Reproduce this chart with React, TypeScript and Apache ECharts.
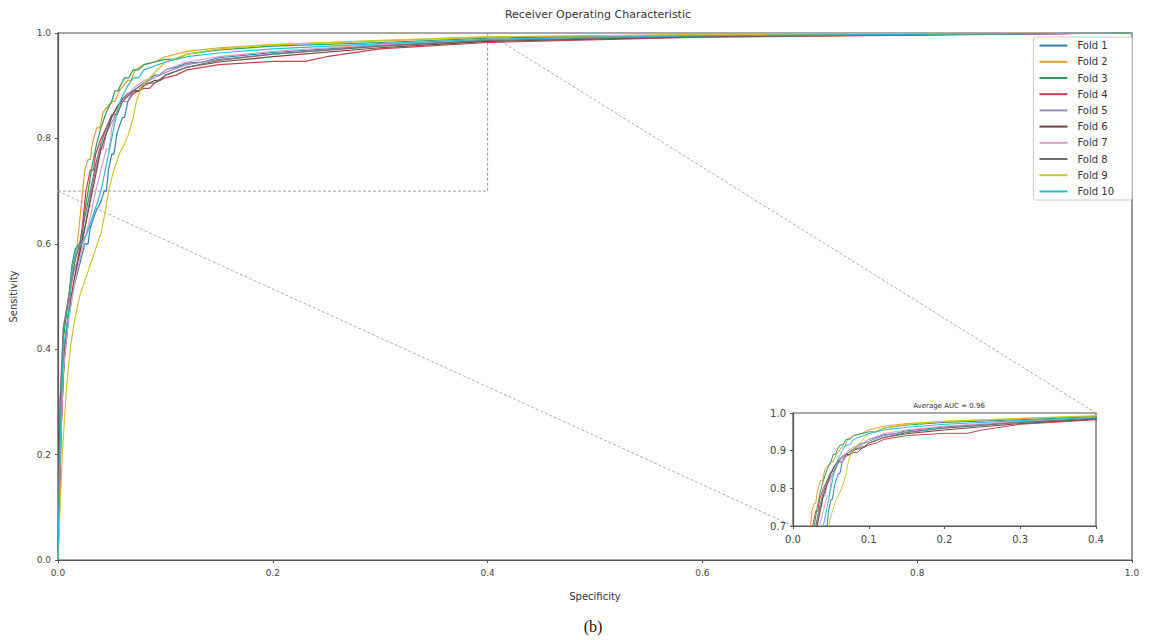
import React, { useEffect, useRef } from "react";
import * as echarts from "echarts";

const foldNames = ["Fold 1", "Fold 2", "Fold 3", "Fold 4", "Fold 5", "Fold 6", "Fold 7", "Fold 8", "Fold 9", "Fold 10"];
const foldColors = ["#2f7fb0", "#e0a030", "#2e9a5a", "#c8404f", "#9a8ab8", "#6a4a3a", "#d8a0c8", "#707070", "#c8c830", "#30b8d0"];

const fold1 = [[0,0],[0.002,0.2],[0.005,0.36],[0.01,0.46],[0.015,0.52],[0.02,0.56],[0.025,0.6],[0.028,0.6],[0.03,0.63],[0.035,0.66],[0.04,0.68],[0.043,0.7],[0.045,0.7],[0.047,0.74],[0.05,0.77],[0.052,0.77],[0.055,0.81],[0.06,0.84],[0.062,0.84],[0.065,0.87],[0.07,0.89],[0.075,0.89],[0.08,0.905],[0.09,0.92],[0.095,0.92],[0.1,0.93],[0.11,0.935],[0.12,0.943],[0.135,0.945],[0.15,0.953],[0.2,0.963],[0.25,0.97],[0.3,0.977],[0.4,0.986],[0.5,0.99],[0.7,0.995],[1,1]];
const fold2 = [[0,0],[0.003,0.25],[0.006,0.4],[0.01,0.48],[0.015,0.56],[0.018,0.6],[0.021,0.66],[0.023,0.7],[0.025,0.74],[0.028,0.76],[0.03,0.76],[0.032,0.79],[0.036,0.82],[0.039,0.82],[0.042,0.85],[0.05,0.87],[0.053,0.87],[0.057,0.89],[0.065,0.91],[0.068,0.91],[0.072,0.93],[0.08,0.94],[0.09,0.945],[0.1,0.955],[0.12,0.965],[0.15,0.972],[0.2,0.978],[0.3,0.985],[0.4,0.992],[0.6,0.997],[1,1]];
const fold3 = [[0,0],[0.002,0.22],[0.005,0.42],[0.01,0.5],[0.013,0.56],[0.016,0.59],[0.02,0.6],[0.022,0.6],[0.024,0.65],[0.028,0.7],[0.032,0.75],[0.036,0.79],[0.04,0.82],[0.045,0.85],[0.05,0.87],[0.053,0.89],[0.056,0.89],[0.058,0.9],[0.062,0.915],[0.066,0.915],[0.07,0.93],[0.075,0.93],[0.08,0.94],[0.09,0.945],[0.1,0.95],[0.11,0.95],[0.12,0.96],[0.15,0.968],[0.2,0.975],[0.3,0.982],[0.4,0.99],[0.6,0.996],[1,1]];
const fold4 = [[0,0],[0.003,0.25],[0.006,0.4],[0.01,0.47],[0.015,0.53],[0.02,0.59],[0.023,0.64],[0.026,0.7],[0.03,0.74],[0.033,0.74],[0.035,0.77],[0.04,0.8],[0.045,0.82],[0.05,0.84],[0.055,0.86],[0.06,0.87],[0.065,0.87],[0.07,0.885],[0.08,0.895],[0.085,0.895],[0.09,0.905],[0.1,0.915],[0.11,0.92],[0.12,0.93],[0.15,0.94],[0.2,0.946],[0.23,0.946],[0.25,0.955],[0.3,0.97],[0.4,0.982],[0.6,0.992],[1,1]];
const fold5 = [[0,0],[0.002,0.3],[0.005,0.44],[0.01,0.5],[0.015,0.55],[0.02,0.58],[0.025,0.63],[0.031,0.7],[0.035,0.74],[0.04,0.78],[0.042,0.78],[0.045,0.81],[0.05,0.83],[0.055,0.85],[0.06,0.87],[0.065,0.87],[0.07,0.89],[0.08,0.905],[0.09,0.915],[0.1,0.925],[0.12,0.94],[0.15,0.95],[0.2,0.96],[0.3,0.975],[0.4,0.985],[0.6,0.993],[1,1]];
const fold6 = [[0,0],[0.003,0.28],[0.007,0.42],[0.01,0.47],[0.015,0.53],[0.02,0.58],[0.025,0.63],[0.032,0.7],[0.036,0.74],[0.04,0.78],[0.045,0.81],[0.05,0.84],[0.055,0.86],[0.06,0.875],[0.065,0.885],[0.07,0.89],[0.075,0.89],[0.08,0.9],[0.09,0.91],[0.095,0.91],[0.1,0.92],[0.12,0.935],[0.15,0.945],[0.2,0.955],[0.3,0.972],[0.4,0.984],[0.6,0.993],[1,1]];
const fold7 = [[0,0],[0.002,0.2],[0.005,0.36],[0.01,0.46],[0.015,0.52],[0.02,0.57],[0.025,0.61],[0.03,0.65],[0.035,0.7],[0.04,0.74],[0.045,0.78],[0.048,0.78],[0.05,0.82],[0.055,0.85],[0.06,0.87],[0.07,0.895],[0.08,0.91],[0.09,0.915],[0.1,0.93],[0.12,0.945],[0.15,0.955],[0.2,0.965],[0.3,0.978],[0.4,0.988],[0.6,0.995],[1,1]];
const fold8 = [[0,0],[0.002,0.3],[0.005,0.44],[0.01,0.5],[0.015,0.56],[0.02,0.6],[0.025,0.65],[0.03,0.7],[0.035,0.75],[0.04,0.79],[0.045,0.82],[0.05,0.845],[0.055,0.845],[0.06,0.87],[0.07,0.89],[0.08,0.905],[0.09,0.905],[0.1,0.92],[0.12,0.935],[0.15,0.948],[0.2,0.96],[0.3,0.975],[0.4,0.986],[0.6,0.994],[1,1]];
const fold9 = [[0,0],[0.004,0.2],[0.008,0.33],[0.012,0.41],[0.016,0.46],[0.02,0.5],[0.025,0.53],[0.03,0.56],[0.035,0.59],[0.04,0.62],[0.044,0.66],[0.047,0.7],[0.052,0.74],[0.057,0.77],[0.062,0.79],[0.066,0.81],[0.07,0.84],[0.073,0.87],[0.078,0.9],[0.09,0.925],[0.1,0.945],[0.12,0.96],[0.15,0.97],[0.2,0.978],[0.3,0.986],[0.4,0.993],[0.6,0.997],[1,1]];
const fold10 = [[0,0],[0.002,0.22],[0.005,0.4],[0.01,0.47],[0.013,0.55],[0.017,0.59],[0.022,0.6],[0.027,0.62],[0.032,0.65],[0.037,0.68],[0.04,0.7],[0.044,0.74],[0.048,0.78],[0.052,0.82],[0.056,0.86],[0.06,0.88],[0.065,0.9],[0.07,0.915],[0.075,0.915],[0.08,0.93],[0.1,0.945],[0.12,0.955],[0.15,0.962],[0.2,0.97],[0.3,0.98],[0.4,0.988],[0.6,0.995],[1,1]];

const foldData = [fold1, fold2, fold3, fold4, fold5, fold6, fold7, fold8, fold9, fold10];

// zoom box in data space (main axes) = inset axes range
const zoomXMin = 0;
const zoomXMax = 0.4;
const zoomYMin = 0.7;
const zoomYMax = 1.0;

const mainTitle = "Receiver Operating Characteristic";
const insetTitle = "Average AUC = 0.96";
const caption = "(b)";

const FONT = "DejaVu Sans";
const AXIS_COLOR = "#555";
const LABEL_COLOR = "#444";

export default function App() {
  const ref = useRef<HTMLDivElement>(null);
  useEffect(() => {
    if (!ref.current) return;
    const chart = echarts.init(ref.current, undefined, { renderer: "svg" });
    const fmt = (v: number) => v.toFixed(1);
    const axisCommon = {
      type: "value",
      axisLine: { show: true, lineStyle: { color: AXIS_COLOR, width: 1.2 } },
      axisTick: { show: true, length: 3, lineStyle: { color: AXIS_COLOR } },
      splitLine: { show: false },
      axisLabel: { color: LABEL_COLOR, fontFamily: FONT, fontSize: 9, formatter: fmt },
    };
    const mainSeries = foldNames.map((name, i) => ({
      name,
      type: "line",
      xAxisIndex: 0,
      yAxisIndex: 0,
      data: foldData[i],
      symbol: "none",
      lineStyle: { width: 1.2, color: foldColors[i] },
      itemStyle: { color: foldColors[i] },
      z: 3,
    }));
    const insetSeries = foldNames.map((name, i) => ({
      name,
      type: "line",
      xAxisIndex: 1,
      yAxisIndex: 1,
      data: foldData[i],
      symbol: "none",
      clip: true,
      lineStyle: { width: 1, color: foldColors[i] },
      itemStyle: { color: foldColors[i] },
      z: 3,
    }));
    const boxSeries = {
      name: "zoombox",
      type: "line",
      xAxisIndex: 0,
      yAxisIndex: 0,
      data: [[zoomXMin, zoomYMin], [zoomXMax, zoomYMin], [zoomXMax, zoomYMax]],
      symbol: "none",
      lineStyle: { width: 1, color: "#999", type: [3, 2] },
      z: 2,
      silent: true,
    };
    chart.setOption({
      animation: false,
      backgroundColor: "#fff",
      title: [
        { text: mainTitle, left: 593, top: 4, textAlign: "center", textStyle: { fontFamily: FONT, fontSize: 11, fontWeight: "normal", color: "#333" } },
        { text: insetTitle, left: 944, top: 397, textAlign: "center", textStyle: { fontFamily: FONT, fontSize: 7, fontWeight: "normal", color: "#333" } },
        { text: caption, left: 588, top: 613, textAlign: "center", textStyle: { fontFamily: "Liberation Serif", fontSize: 16, fontWeight: "normal", color: "#111" } },
      ],
      legend: {
        data: foldNames,
        orient: "vertical",
        right: 17,
        top: 37,
        padding: [3, 18, 3, 5],
        itemWidth: 28,
        itemHeight: 14,
        itemGap: 5,
        itemStyle: { opacity: 0 },
        backgroundColor: "#fff",
        borderColor: "#ccc",
        borderWidth: 1,
        borderRadius: 2,
        textStyle: { fontFamily: FONT, fontSize: 10, color: "#333", padding: [0, 0, 0, 5] },
      },
      grid: [
        { left: 54, top: 33, width: 1078, height: 527, show: true, borderColor: AXIS_COLOR, borderWidth: 1.2, backgroundColor: "transparent" },
        { left: 793, top: 413, width: 303, height: 113, show: true, borderColor: AXIS_COLOR, borderWidth: 1.2, backgroundColor: "#fff" },
      ],
      xAxis: [
        { ...axisCommon, gridIndex: 0, min: 0, max: 1, interval: 0.2, name: "Specificity", nameLocation: "middle", nameGap: 31, nameTextStyle: { fontFamily: FONT, fontSize: 10, color: "#333" }, axisLabel: { ...axisCommon.axisLabel, margin: 8 } },
        { ...axisCommon, gridIndex: 1, min: zoomXMin, max: zoomXMax, interval: 0.1, axisLabel: { ...axisCommon.axisLabel, fontSize: 10, margin: 8 } },
      ],
      yAxis: [
        { ...axisCommon, gridIndex: 0, min: 0, max: 1, interval: 0.2, name: "Sensitivity", nameLocation: "middle", nameGap: 40, nameTextStyle: { fontFamily: FONT, fontSize: 10, color: "#333" }, axisLabel: { ...axisCommon.axisLabel, margin: 7 } },
        { ...axisCommon, gridIndex: 1, min: zoomYMin, max: zoomYMax, interval: 0.1, axisLabel: { ...axisCommon.axisLabel, fontSize: 10, margin: 7 } },
      ],
      series: [boxSeries, ...mainSeries, ...insetSeries],
    });
    // connector lines from zoom box corners to inset corners, via the axes
    const a1 = chart.convertToPixel({ gridIndex: 0 }, [zoomXMin, zoomYMin]) as number[];
    const b1 = chart.convertToPixel({ gridIndex: 1 }, [zoomXMin, zoomYMin]) as number[];
    const a2 = chart.convertToPixel({ gridIndex: 0 }, [zoomXMax, zoomYMax]) as number[];
    const b2 = chart.convertToPixel({ gridIndex: 1 }, [zoomXMax, zoomYMax]) as number[];
    const dash = { stroke: "#aaa", lineWidth: 1, lineDash: [3, 2] };
    chart.setOption({
      graphic: [
        { type: "line", z: 1, silent: true, shape: { x1: a1[0], y1: a1[1], x2: b1[0], y2: b1[1] }, style: dash },
        { type: "line", z: 1, silent: true, shape: { x1: a2[0], y1: a2[1], x2: b2[0], y2: b2[1] }, style: dash },
      ],
    });
    return () => chart.dispose();
  }, []);
  return <div ref={ref} style={{ width: 1149, height: 640, position: "absolute", left: 0, top: 0 }} />;
}
